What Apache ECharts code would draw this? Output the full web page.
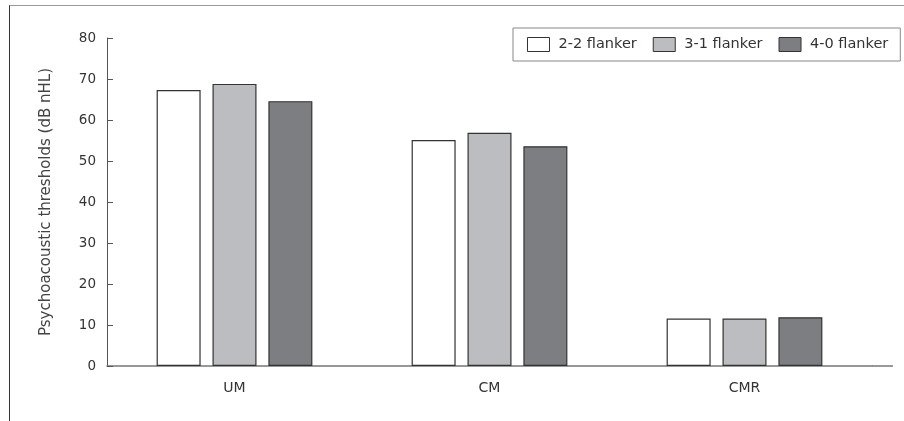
<!DOCTYPE html>
<html>
<head>
<meta charset="utf-8">
<script src="https://cdn.jsdelivr.net/npm/echarts@6/dist/echarts.min.js"></script>
<style>
  html, body { margin: 0; padding: 0; background: #fff; }
  #wrap { position: relative; width: 904px; height: 421px; }
  #frame { position: absolute; left: 9px; top: 5px; right: 0; bottom: 0;
           border-top: 1px solid #999; border-left: 1px solid #333; }
  #chart { position: absolute; left: 0; top: 0; width: 904px; height: 421px; }
</style>
</head>
<body>
<div id="wrap">
  <div id="frame"></div>
  <div id="chart"></div>
</div>
<script>
// groups on the x axis
var categories = ['UM', 'CM', 'CMR'];
var seriesNames = ['2-2 flanker', '3-1 flanker', '4-0 flanker'];
// thresholds (dB nHL)
var flanker22 = [67.3, 55.1, 11.6];
var flanker31 = [68.8, 56.9, 11.6];
var flanker40 = [64.6, 53.6, 11.9];
var yTicks = [0, 10, 20, 30, 40, 50, 60, 70, 80];

var fills = ['#ffffff', '#bcbdc1', '#7d7e82'];
var font = '"DejaVu Sans", sans-serif';

var myChart = echarts.init(document.getElementById('chart'));

function barSeries(name, data, color) {
    return {
        name: name,
        type: 'bar',
        data: data,
        barWidth: 44,
        barGap: '27%',
        itemStyle: { color: color, borderColor: '#333', borderWidth: 1.2 },
        emphasis: { disabled: true }
    };
}

var option = {
    animation: false,
    textStyle: { fontFamily: font },
    legend: {
        data: seriesNames,
        icon: 'rect',
        left: 513,
        top: 28,
        orient: 'horizontal',
        itemWidth: 22,
        itemHeight: 14,
        itemGap: 16,
        padding: [9, 12, 9, 14],
        borderColor: '#888',
        borderWidth: 1,
        textStyle: { fontSize: 14.5, color: '#333', fontFamily: font, padding: [0, 0, 0, 4] },
        itemStyle: { borderColor: '#333', borderWidth: 1 }
    },
    grid: { left: 107, top: 38, right: 32, bottom: 55 },
    xAxis: {
        type: 'category',
        data: categories,
        axisLine: { lineStyle: { color: '#777', width: 1.5 } },
        axisTick: { show: false },
        axisLabel: { fontSize: 14, color: '#333', margin: 15, fontFamily: font }
    },
    yAxis: {
        type: 'value',
        min: yTicks[0],
        max: yTicks[yTicks.length - 1],
        interval: 10,
        name: 'Psychoacoustic thresholds (dB nHL)',
        nameLocation: 'middle',
        nameGap: 53,
        nameTextStyle: { fontSize: 15, color: '#444', fontFamily: font },
        splitLine: { show: false },
        axisLine: { show: true, lineStyle: { color: '#555', width: 1 } },
        axisTick: { show: true, inside: true, length: 6, lineStyle: { color: '#555' } },
        axisLabel: { fontSize: 13.5, color: '#333', margin: 11, fontFamily: font }
    },
    graphic: [{
        type: 'line',
        shape: { x1: 872, y1: 366, x2: 893, y2: 366 },
        style: { stroke: '#777', lineWidth: 1.5 }
    }],
    series: [
        barSeries(seriesNames[0], flanker22, fills[0]),
        barSeries(seriesNames[1], flanker31, fills[1]),
        barSeries(seriesNames[2], flanker40, fills[2])
    ]
};

myChart.setOption(option);
</script>
</body>
</html>
